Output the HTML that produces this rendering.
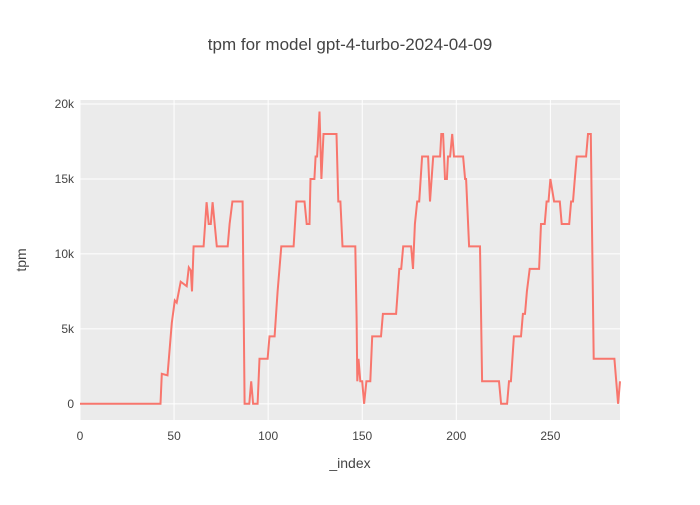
<!DOCTYPE html>
<html><head><meta charset="utf-8"><style>
body{margin:0;background:#fff;font-family:"Liberation Sans",sans-serif}
svg text{font-family:"Liberation Sans",sans-serif;fill:#444}
</style></head><body>
<svg id="chart" width="700" height="500">
<rect width="700" height="500" fill="#fff"/>
<text x="350" y="50" font-size="17" text-anchor="middle">tpm for model gpt-4-turbo-2024-04-09</text>
<rect x="80" y="100" width="540" height="320" fill="#ebebeb"/>
<g id="grid"></g><g id="ticks"></g>
<path id="line" fill="none" stroke="#f8766d" stroke-width="2"/>
<text x="350" y="468" font-size="14" text-anchor="middle">_index</text>
<text transform="translate(26,260) rotate(-90)" font-size="14" text-anchor="middle">tpm</text>
</svg>
<script>
const xIdx=[0,42.8,43.5,46.5,48.8,50.4,51.4,53.5,56.7,57.8,58.9,59.5,60.4,65.7,67.3,68.4,69.5,70.5,72.7,78.5,79.5,81,86.4,87.5,90,91,92,94.4,95.4,99.7,100.7,103.4,105,107,113.5,115,119.3,120.5,122,122.5,124.6,125.2,126,127.3,128.3,129.4,136.3,137.3,138.4,139.5,146.3,147,147.4,148,149,150,151,152.2,154.3,155.3,160,161,168,169.7,170.7,171.8,176,177,178,179.2,180.3,181.8,185,186,187.7,191.4,192,193,194,195,195.6,196.7,197.8,198.8,203.6,204.7,205.2,206.8,212.6,213.7,222.7,223.8,227,228,229,230.6,234.4,235.4,236.5,237.5,239,244,245,247,248,249,250,252,255,256,260,261,262,263,264,269,270,271.5,273,284,286,287];
const tpmVals=[0,0,2000,1900,5400,6900,6750,8150,7850,9100,8900,7500,10500,10500,13450,12000,12000,13450,10500,10500,12000,13500,13500,0,0,1500,0,0,3000,3000,4500,4500,7500,10500,10500,13500,13500,12000,12000,15000,15000,16500,16500,19500,15000,18000,18000,13500,13500,10500,10500,5700,1500,3000,1500,1500,0,1500,1500,4500,4500,6000,6000,9000,9000,10500,10500,9000,12000,13500,13500,16500,16500,13500,16500,16500,18000,18000,15000,15000,16500,16500,18000,16500,16500,15000,15000,10500,10500,1500,1500,0,0,1500,1500,4500,4500,6000,6000,7500,9000,9000,12000,12000,13500,13500,15000,13500,13500,12000,12000,13500,13500,15000,16500,16500,18000,18000,3000,3000,0,1500];
const xTicks=[0,50,100,150,200,250];
const yTicks=[0,5000,10000,15000,20000];
const yTickLabels=["0","5k","10k","15k","20k"];
const X0=80,X1=620,Y0=420,Y1=100,xMin=0,xMax=287,yMin=-1080,yMax=20270;
const sx=v=>X0+(v-xMin)/(xMax-xMin)*(X1-X0);
const sy=v=>Y0-(v-yMin)/(yMax-yMin)*(Y0-Y1);
const NS="http://www.w3.org/2000/svg";
const grid=document.getElementById('grid'),ticks=document.getElementById('ticks');
xTicks.forEach(t=>{
 const l=document.createElementNS(NS,'line');
 
 
 l.setAttribute('x1',sx(t));l.setAttribute('x2',sx(t));l.setAttribute('y1',Y1);l.setAttribute('y2',Y0);
 l.setAttribute('stroke','#fff');l.setAttribute('stroke-width','1');grid.appendChild(l);
 const tx=document.createElementNS(NS,'text');
 
 
 tx.setAttribute('x',sx(t));tx.setAttribute('y',440);tx.setAttribute('font-size','12');tx.setAttribute('text-anchor','middle');
 tx.textContent=t;ticks.appendChild(tx);
});
yTicks.forEach((t,i)=>{
 const l=document.createElementNS(NS,'line');
 
 
 l.setAttribute('x1',X0);l.setAttribute('x2',X1);l.setAttribute('y1',sy(t));l.setAttribute('y2',sy(t));
 l.setAttribute('stroke','#fff');l.setAttribute('stroke-width','1');grid.appendChild(l);
 const tx=document.createElementNS(NS,'text');
 
 
 tx.setAttribute('x',X0-6);tx.setAttribute('y',sy(t)+4);tx.setAttribute('font-size','12');tx.setAttribute('text-anchor','end');
 tx.textContent=yTickLabels[i];ticks.appendChild(tx);
});
document.getElementById('line').setAttribute('d',xIdx.map((x,i)=>(i?'L':'M')+sx(x).toFixed(1)+','+sy(tpmVals[i]).toFixed(1)).join(''));
</script>
</body></html>
